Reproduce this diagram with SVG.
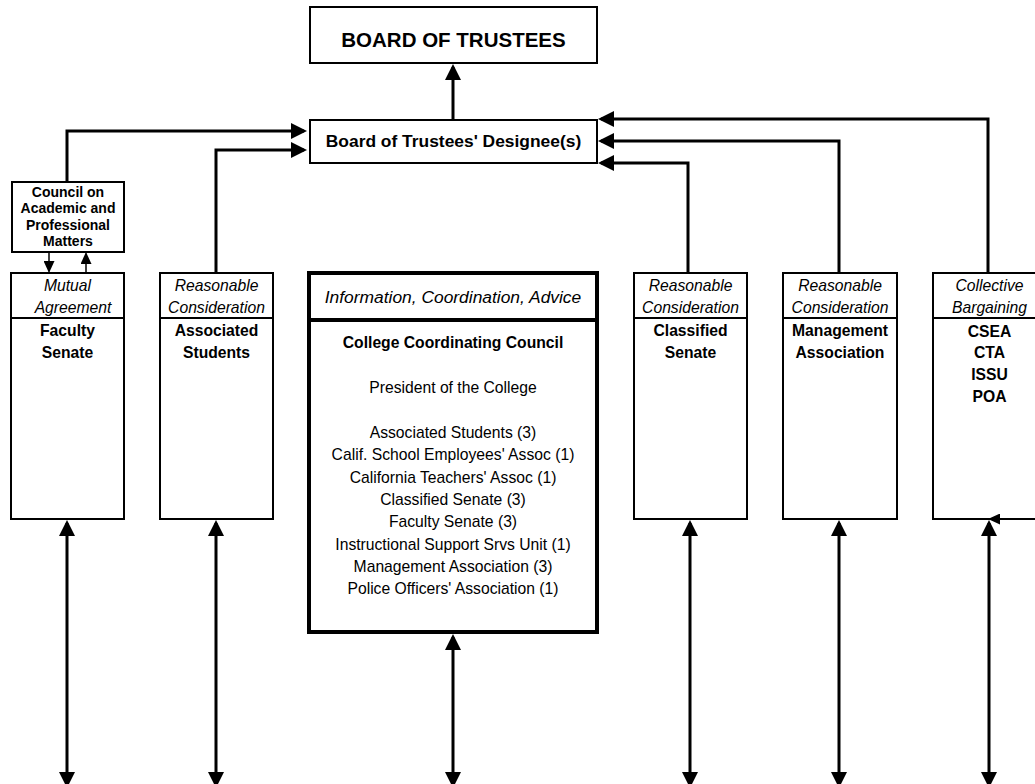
<svg xmlns="http://www.w3.org/2000/svg" width="1035" height="784" viewBox="0 0 1035 784">
<style>
  .box { fill: #fff; stroke: #000; stroke-width: 2; }
  .thick { fill: #fff; stroke: #000; stroke-width: 4; }
  .div { stroke: #000; stroke-width: 2; }
  .div4 { stroke: #000; stroke-width: 4; }
  text { font-family: "Liberation Sans", Arial, sans-serif; fill: #000; text-anchor: middle; }
  .b { font-weight: bold; font-size: 15.7px; }
  .i { font-style: italic; font-size: 15.7px; }
  .n { font-size: 15.7px; }
  .sm { font-weight: bold; font-size: 14px; }
  .con { fill: none; stroke: #000; stroke-width: 3; }
  .thin { fill: none; stroke: #000; stroke-width: 1.5; }
</style>
<defs>
  <marker id="ah" markerUnits="userSpaceOnUse" markerWidth="16" markerHeight="16" refX="13" refY="8" orient="auto-start-reverse">
    <path d="M0,0 L16,8 L0,16 z" fill="#000"/>
  </marker>
  <marker id="as" markerUnits="userSpaceOnUse" markerWidth="12" markerHeight="11" refX="10.5" refY="5.5" orient="auto-start-reverse">
    <path d="M0,0 L12,5.5 L0,11 z" fill="#000"/>
  </marker>
</defs>

<g id="board">
  <rect class="box" x="310" y="7" width="287" height="56"/>
  <text x="453.5" y="46.5" style="font-weight:bold;font-size:20.5px">BOARD OF TRUSTEES</text>
</g>

<g id="designee">
  <rect class="box" x="310" y="120" width="287" height="43"/>
  <text x="453.5" y="147" style="font-weight:bold;font-size:17.4px">Board of Trustees' Designee(s)</text>
</g>

<g id="council">
  <rect class="box" x="12" y="182" width="112" height="70"/>
  <text class="sm" x="68" y="196.5">Council on</text>
  <text class="sm" x="68" y="213">Academic and</text>
  <text class="sm" x="68" y="229.5">Professional</text>
  <text class="sm" x="68" y="246">Matters</text>
</g>

<g id="faculty-senate">
  <rect class="box" x="11" y="273" width="113" height="246"/>
  <line class="div" x1="11" y1="318" x2="124" y2="318"/>
  <text class="i" x="67.5" y="291">Mutual</text>
  <text class="i" x="73" y="313">Agreement</text>
  <text class="b" x="67.5" y="336">Faculty</text>
  <text class="b" x="67.5" y="358">Senate</text>
</g>

<g id="associated-students">
  <rect class="box" x="160" y="273" width="113" height="246"/>
  <line class="div" x1="160" y1="318" x2="273" y2="318"/>
  <text class="i" x="216.5" y="291">Reasonable</text>
  <text class="i" x="216.5" y="313">Consideration</text>
  <text class="b" x="216.5" y="336">Associated</text>
  <text class="b" x="216.5" y="358">Students</text>
</g>

<g id="coordinating-council">
  <rect class="thick" x="309" y="273" width="288" height="359"/>
  <line class="div4" x1="309" y1="320" x2="597" y2="320"/>
  <text x="453" y="303" style="font-style:italic;font-size:17.4px">Information, Coordination, Advice</text>
  <text class="b" x="453" y="347.5">College Coordinating Council</text>
  <text class="n" x="453" y="393">President of the College</text>
  <text class="n" x="453" y="438">Associated Students (3)</text>
  <text class="n" x="453" y="460.3">Calif. School Employees' Assoc (1)</text>
  <text class="n" x="453" y="482.6">California Teachers' Assoc (1)</text>
  <text class="n" x="453" y="504.9">Classified Senate (3)</text>
  <text class="n" x="453" y="527.2">Faculty Senate (3)</text>
  <text class="n" x="453" y="549.5">Instructional Support Srvs Unit (1)</text>
  <text class="n" x="453" y="571.8">Management Association (3)</text>
  <text class="n" x="453" y="594.1">Police Officers' Association (1)</text>
</g>

<g id="classified-senate">
  <rect class="box" x="634" y="273" width="113" height="246"/>
  <line class="div" x1="634" y1="318" x2="747" y2="318"/>
  <text class="i" x="690.5" y="291">Reasonable</text>
  <text class="i" x="690.5" y="313">Consideration</text>
  <text class="b" x="690.5" y="336">Classified</text>
  <text class="b" x="690.5" y="358">Senate</text>
</g>

<g id="management-association">
  <rect class="box" x="783" y="273" width="114" height="246"/>
  <line class="div" x1="783" y1="318" x2="897" y2="318"/>
  <text class="i" x="840" y="291">Reasonable</text>
  <text class="i" x="840" y="313">Consideration</text>
  <text class="b" x="840" y="336">Management</text>
  <text class="b" x="840" y="358">Association</text>
</g>

<g id="collective-bargaining">
  <rect class="box" x="933" y="273" width="113" height="246"/>
  <line class="div" x1="933" y1="318" x2="1046" y2="318"/>
  <text class="i" x="989.5" y="291">Collective</text>
  <text class="i" x="989.5" y="313">Bargaining</text>
  <text class="b" x="989.5" y="336.5">CSEA</text>
  <text class="b" x="989.5" y="358">CTA</text>
  <text class="b" x="989.5" y="380">ISSU</text>
  <text class="b" x="989.5" y="401.5">POA</text>
</g>

<g id="connectors">
  <path class="con" d="M453,120 V67" marker-end="url(#ah)"/>
  <path class="con" d="M67,182 V131 H304" marker-end="url(#ah)"/>
  <path class="con" d="M216,273 V150 H304" marker-end="url(#ah)"/>
  <path class="con" d="M988,273 V119 H601" marker-end="url(#ah)"/>
  <path class="con" d="M839,273 V141 H601" marker-end="url(#ah)"/>
  <path class="con" d="M688,273 V163 H601" marker-end="url(#ah)"/>
  <path class="thin" d="M49,252 V271.5" marker-end="url(#as)"/>
  <path class="thin" d="M86,273 V253.5" marker-end="url(#as)"/>
  <path class="thin" d="M1035,519 H989.5" style="stroke-width:2" marker-end="url(#as)"/>
  <path class="con" d="M67,523 V785" marker-start="url(#ah)" marker-end="url(#ah)"/>
  <path class="con" d="M216,523 V785" marker-start="url(#ah)" marker-end="url(#ah)"/>
  <path class="con" d="M453,637 V785" marker-start="url(#ah)" marker-end="url(#ah)"/>
  <path class="con" d="M690,523 V785" marker-start="url(#ah)" marker-end="url(#ah)"/>
  <path class="con" d="M839,523 V785" marker-start="url(#ah)" marker-end="url(#ah)"/>
  <path class="con" d="M989,523 V785" marker-start="url(#ah)" marker-end="url(#ah)"/>
</g>
</svg>
